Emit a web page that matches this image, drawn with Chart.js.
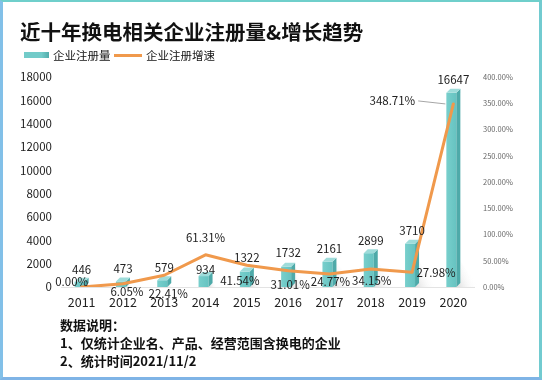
<!DOCTYPE html>
<html><head><meta charset="utf-8">
<script src="https://cdn.jsdelivr.net/npm/chart.js@4/dist/chart.umd.min.js"></script>
<style>
html,body{margin:0;padding:0;background:#fff;}
#wrap{position:relative;width:542px;height:380px;overflow:hidden;font-family:'Noto Sans CJK SC','Noto Sans',sans-serif;background:#fff;}
#c{position:absolute;left:0;top:0;}
.t{position:absolute;white-space:nowrap;color:#111;}
#title{left:20px;top:17px;font-size:20.5px;font-weight:bold;line-height:28px;}
.lg{font-size:11.5px;line-height:14px;top:48px;}
#lgBar{position:absolute;left:24px;top:52px;width:25px;height:6px;background:linear-gradient(90deg,#72cbc9 0%,#72cbc9 70%,#52acab 100%);}
#lgLine{position:absolute;left:114px;top:54px;width:28px;height:3px;background:#f0994c;}
#notes{left:60px;top:316px;font-size:13px;font-weight:bold;line-height:18px;}
#frame{position:absolute;left:0;top:0;width:542px;height:380px;box-sizing:border-box;border-style:solid;border-width:2px 3px 3px 3px;border-color:#6fcfcb #72cbd0 #7fb4e6 #82c0e8;pointer-events:none;}
</style></head>
<body><div id="wrap">
<canvas id="c" width="542" height="380"></canvas>
<div class="t" id="title">近十年换电相关企业注册量&amp;增长趋势</div>
<div id="lgBar"></div><div class="t lg" style="left:53px">企业注册量</div>
<div id="lgLine"></div><div class="t lg" style="left:146px">企业注册增速</div>
<div class="t" id="notes">数据说明：<br>1、仅统计企业名、产品、经营范围含换电的企业<br>2、统计时间2021/11/2</div>
<div id="frame"></div>
</div>
<script>
// ---- data ----
const years = ['2011','2012','2013','2014','2015','2016','2017','2018','2019','2020'];
const registrations = [446, 473, 579, 934, 1322, 1732, 2161, 2899, 3710, 16647];
const growthRates = [0.00, 6.05, 22.41, 61.31, 41.54, 31.01, 24.77, 34.15, 27.98, 348.71];
const countAxisMax = 18000, countAxisStep = 2000;
const rateAxisMax = 400, rateAxisStep = 50;

// ---- style ----
const FONT = "'Noto Sans CJK SC','Noto Sans',sans-serif";
const barSide = '#4eaaa9', barTop = '#9edcda';
const lineColor = '#f0994c';
const barShift = -2, barDepth = 4;
// label offsets (px) relative to bar top / line point
const barLabelShift = [[0,-12],[0,-13],[0,-13],[0,-6],[0,-14],[0,-14],[0,-13],[0,-13],[0,-13],[0,-13]];
const rateLabelShift = [[-10,-5],[4,8],[4,18],[0,-17],[-7,15],[2,14],[1,8],[1,12],[24,0],[-61,-3]];
const leaderIndex = 9;

const bar3d = {
  id:'bar3d',
  afterDatasetDraw(chart,args){
    if(args.index!==0) return;
    const ctx = chart.ctx; const d = barDepth;
    ctx.save();
    args.meta.data.forEach(el=>{
      const p = el.getProps(['x','y','base','width'],true);
      const l = p.x - p.width/2 + barShift, r = p.x + p.width/2 + barShift;
      const y = p.y, b = p.base;
      // floor shadow
      const sh = Math.min(b - y, 26);
      const g = ctx.createLinearGradient(r, b, r+sh*0.7, b-sh*0.3);
      g.addColorStop(0,'rgba(190,190,190,0.55)'); g.addColorStop(1,'rgba(255,255,255,0)');
      ctx.fillStyle = g;
      ctx.beginPath(); ctx.moveTo(r+d, b-sh); ctx.lineTo(r+d+sh*0.7, b); ctx.lineTo(r, b); ctx.closePath(); ctx.fill();
      // front
      const fg = ctx.createLinearGradient(l,0,r,0);
      fg.addColorStop(0,'#78cfcc'); fg.addColorStop(1,'#66c3c1');
      ctx.fillStyle = fg; ctx.fillRect(l, y, r-l, b-y);
      // side
      ctx.fillStyle = barSide;
      ctx.beginPath(); ctx.moveTo(r,y); ctx.lineTo(r+d,y-d); ctx.lineTo(r+d,b-d); ctx.lineTo(r,b); ctx.closePath(); ctx.fill();
      // top
      ctx.fillStyle = barTop;
      ctx.beginPath(); ctx.moveTo(l,y); ctx.lineTo(l+d,y-d); ctx.lineTo(r+d,y-d); ctx.lineTo(r,y); ctx.closePath(); ctx.fill();
    });
    ctx.restore();
  }
};

const labels = {
  id:'labels',
  afterDatasetsDraw(chart){
    const ctx = chart.ctx;
    ctx.save();
    ctx.font = '11.5px ' + FONT;
    ctx.fillStyle = '#222'; ctx.textAlign = 'center'; ctx.textBaseline = 'middle';
    chart.getDatasetMeta(0).data.forEach((el,i)=>{
      ctx.fillText(String(registrations[i]), el.x + barLabelShift[i][0], el.y + barLabelShift[i][1]);
    });
    chart.getDatasetMeta(1).data.forEach((el,i)=>{
      const txt = growthRates[i].toFixed(2) + '%';
      const x = el.x + rateLabelShift[i][0], y = el.y + rateLabelShift[i][1];
      ctx.fillStyle = '#222';
      ctx.fillText(txt, x, y);
      if(i===leaderIndex){
        const w = ctx.measureText(txt).width;
        ctx.strokeStyle = '#a6a6a6'; ctx.lineWidth = 1;
        ctx.beginPath(); ctx.moveTo(x + w/2 + 3, y); ctx.lineTo(el.x - 8, el.y); ctx.stroke();
      }
    });
    ctx.restore();
  }
};

new Chart(document.getElementById('c'), {
  data:{
    labels: years,
    datasets:[
      {type:'bar', label:'企业注册量', data: registrations, yAxisID:'y', order:2,
       backgroundColor:'rgba(0,0,0,0)', barThickness:10},
      {type:'line', label:'企业注册增速', data: growthRates, yAxisID:'y1', order:1,
       borderColor: lineColor, borderWidth:3, pointRadius:0, tension:0, borderCapStyle:'round', borderJoinStyle:'round'}
    ]
  },
  options:{
    responsive:false, animation:false,
    layout:{padding:{top:77,left:0,right:0,bottom:0}},
    plugins:{legend:{display:false}, tooltip:{enabled:false}},
    scales:{
      x:{
        grid:{display:false, drawTicks:false},
        border:{display:true, color:'#e3e3e3'},
        ticks:{font:{family:FONT,size:12.5}, color:'#222', padding:8, maxRotation:0},
        afterFit(s){ s.height = 93; }
      },
      y:{
        position:'left', min:0, max:countAxisMax,
        grid:{display:false, drawTicks:false}, border:{display:false},
        ticks:{stepSize:countAxisStep, font:{family:FONT,size:11.5}, color:'#222', padding:9,
               callback:v=>String(v)},
        afterFit(s){ s.width = 61; }
      },
      y1:{
        position:'right', min:0, max:rateAxisMax,
        grid:{display:false, drawTicks:false}, border:{display:false},
        ticks:{stepSize:rateAxisStep, font:{family:FONT,size:7.5}, color:'#666', padding:9,
               callback:v=>v.toFixed(2)+'%'},
        afterFit(s){ s.width = 68; }
      }
    }
  },
  plugins:[bar3d, labels]
});
</script>
</body></html>
